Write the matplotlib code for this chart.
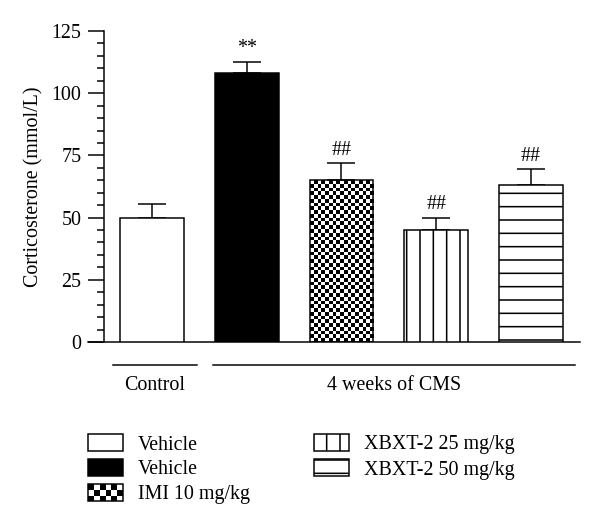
import matplotlib
matplotlib.use("Agg")
import matplotlib.pyplot as plt
import numpy as np
from matplotlib.patches import Rectangle
from matplotlib.legend_handler import HandlerBase
from matplotlib.ticker import MultipleLocator

plt.rcParams["font.family"] = ["Liberation Serif", "DejaVu Serif"]
plt.rcParams["hatch.linewidth"] = 1.4

# data
groups = ["Vehicle", "Vehicle", "IMI 10 mg/kg", "XBXT-2 25 mg/kg", "XBXT-2 50 mg/kg"]
means = [50, 108, 65, 45, 63]
sem = [5.5, 4.7, 7, 5, 6.5]
marks = ["", "**", "##", "##", "##"]
ytick_vals = [0, 25, 50, 75, 100, 125]
bracket_names = ["Control", "4 weeks of CMS"]

fs = 18
lw = 1.35
px = fs * 80 / 72  # font size in pixels

fig = plt.figure(figsize=(7.5, 6.55), dpi=80)
ax = fig.add_axes([88 / 600, 1 - 342 / 524, 492 / 600, 311 / 524])

x = np.arange(len(means))
width = 0.675
styles = [
    dict(facecolor="white", hatch=None),
    dict(facecolor="black", hatch=None),
    dict(facecolor="none", hatch=None),
    dict(facecolor="white", hatch="|"),
    dict(facecolor="white", hatch="-"),
]
bars = []
for xi, m, st in zip(x, means, styles):
    b = ax.bar(xi, m, width=width, edgecolor="black", linewidth=lw, zorder=3, **st)
    bars.append(b[0])

# checkerboard fill for the IMI bar
rect = bars[2]
x0, w, h = rect.get_x(), rect.get_width(), rect.get_height()
nrows = int(round(h / 1.5))
checker = np.indices((nrows, 17)).sum(axis=0) % 2
im = ax.imshow(checker, cmap="gray_r", extent=(x0, x0 + w, 0, h), aspect="auto",
               interpolation="nearest", zorder=2)
im.set_clip_path(rect)

ax.errorbar(x, means, yerr=[np.zeros(len(sem)), sem], fmt="none", ecolor="black",
            elinewidth=lw, capsize=13, capthick=lw, zorder=2)

for xi, m, s, t in zip(x, means, sem, marks):
    if t:
        ax.annotate(t, (xi, m + s), xytext=(0, 3), textcoords="offset points",
                    ha="center", va="bottom", fontsize=fs)

ax.set_xlim(-0.675, 4.517)
ax.set_ylim(0, 125)
ax.spines["top"].set_visible(False)
ax.spines["right"].set_visible(False)
ax.spines["left"].set_position(("data", -0.507))
ax.spines["left"].set_linewidth(lw)
ax.spines["bottom"].set_linewidth(lw)
ax.set_xticks([])
ax.set_yticks(ytick_vals)
ax.yaxis.set_minor_locator(MultipleLocator(5))
ax.tick_params(axis="y", which="major", length=14.4, width=lw, labelsize=fs, pad=6)
ax.tick_params(axis="y", which="minor", length=6.3, width=lw)
ax.set_ylabel("Corticosterone (mmol/L)", fontsize=fs)
ax.yaxis.set_label_coords(-0.09, 0.5)

# group brackets under the axis
trans = ax.get_xaxis_transform()
spans = [(-0.41, 0.475), (0.644, 4.464)]
for (a, b), name in zip(spans, bracket_names):
    ax.plot([a, b], [-0.074, -0.074], color="black", lw=lw, transform=trans, clip_on=False)
    ax.text((a + b) / 2, -0.141, name, transform=trans, ha="center", va="center", fontsize=fs)


class CheckerHandler(HandlerBase):
    def create_artists(self, legend, orig_handle, xdescent, ydescent, width, height,
                       fontsize, trans):
        arts = [Rectangle((-xdescent, -ydescent), width, height, facecolor="white",
                          edgecolor="none", transform=trans)]
        nx, ny = 6, 3
        sw, sh = width / nx, height / ny
        for i in range(nx):
            for j in range(ny):
                if (i + j) % 2 == 0:
                    arts.append(Rectangle((-xdescent + i * sw, -ydescent + j * sh), sw, sh,
                                          facecolor="black", edgecolor="none", transform=trans))
        arts.append(Rectangle((-xdescent, -ydescent), width, height, facecolor="none",
                              edgecolor="black", lw=lw, transform=trans))
        return arts


handles = [Rectangle((0, 0), 1, 1, edgecolor="black", linewidth=lw, **st) for st in styles]
leg = fig.legend(handles, groups, loc="upper left", bbox_to_anchor=(88 / 600, 1 - 434 / 524),
                 ncol=2, frameon=False, fontsize=fs, borderpad=0, borderaxespad=0,
                 handlelength=35 / px, handleheight=19 / px,
                 handletextpad=15 / px, labelspacing=0.225, columnspacing=3.2,
                 handler_map={handles[2]: CheckerHandler()})

fig.savefig("out.png", dpi=80)
